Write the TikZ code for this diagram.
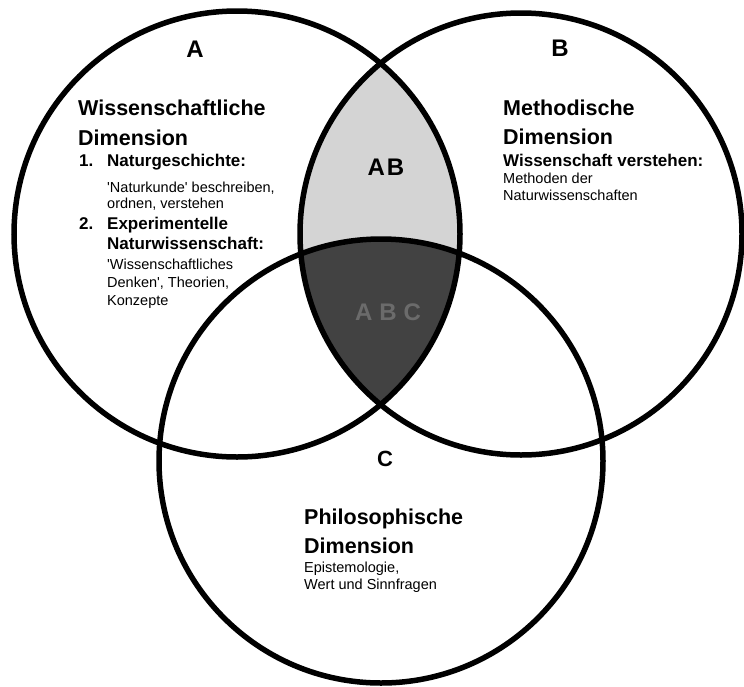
\documentclass[tikz,border=0pt]{standalone}
\usepackage{fontspec}
\setmainfont{Liberation Sans}
\begin{document}
\begin{tikzpicture}[x=1pt,y=-1pt,
  ring/.style={draw=black,line width=5.5pt},
  head/.style={font=\fontsize{21.5}{25}\selectfont\bfseries,anchor=base west,inner sep=0pt},
  sub/.style={font=\fontsize{17}{20}\selectfont\bfseries,anchor=base west,inner sep=0pt},
  txt/.style={font=\fontsize{14.5}{17}\selectfont,anchor=base west,inner sep=0pt},
  lab/.style={font=\fontsize{24}{28}\selectfont\bfseries,anchor=base,inner sep=0pt}]
\useasboundingbox (0,0) rectangle (744,686);
\fill[white] (0,0) rectangle (744,686);
\coordinate (cA) at (237,234);
\coordinate (cB) at (521,234);
\coordinate (cC) at (381,461);
% shaded intersections
\begin{scope}
  \clip (cA) circle [radius=223pt];
  \clip (cB) circle [radius=221pt];
  \fill[black!17] (0,0) rectangle (744,686);
  \fill[black!74] (cC) circle [radius=222pt];
\end{scope}
% circles
\draw[ring] (cA) circle [radius=223pt];
\draw[ring] (cB) circle [radius=221pt];
\draw[ring] (cC) circle [radius=222pt];
% labels
\node[lab] (lA) at (195,57.5) {A};
\node[lab] (lB) at (560,56.5) {B};
\node[lab,font=\fontsize{22}{26}\selectfont\bfseries] (lC) at (385,466) {C};
\node[lab] (lAB) at (386,175) {A\hspace{2pt}B};
\node[lab,text=black!58] (lABC) at (388,320) {A\hspace{7pt}B\hspace{7pt}C};
% left block
\node[head] (a1) at (78,115.5) {Wissenschaftliche};
\node[head] (a2) at (78,145.5) {Dimension};
\node[sub] (a3n) at (79,166.5) {1.};
\node[sub] (a3) at (107,166.5) {Naturgeschichte:};
\node[txt] (a4) at (107,192) {\textquotesingle Naturkunde\textquotesingle\ beschreiben,};
\node[txt] (a5) at (107,208) {ordnen, verstehen};
\node[sub] (a6n) at (79,229) {2.};
\node[sub] (a6) at (107,229) {Experimentelle};
\node[sub] (a7) at (107,249) {Naturwissenschaft:};
\node[txt] (a8) at (107,269) {\textquotesingle Wissenschaftliches};
\node[txt] (a9) at (107,287) {Denken\textquotesingle, Theorien,};
\node[txt] (a10) at (107,305) {Konzepte};
% right block
\node[head] (b1) at (503,115.5) {Methodische};
\node[head] (b2) at (503,144.5) {Dimension};
\node[sub] (b3) at (503,166) {Wissenschaft verstehen:};
\node[txt] (b4) at (503,183) {Methoden der};
\node[txt] (b5) at (503,200) {Naturwissenschaften};
% bottom block
\node[head] (c1) at (304,524.5) {Philosophische};
\node[head] (c2) at (304,553.5) {Dimension};
\node[txt] (c3) at (304,572) {Epistemologie,};
\node[txt] (c4) at (304,589) {Wert und Sinnfragen};
\end{tikzpicture}
\end{document}
